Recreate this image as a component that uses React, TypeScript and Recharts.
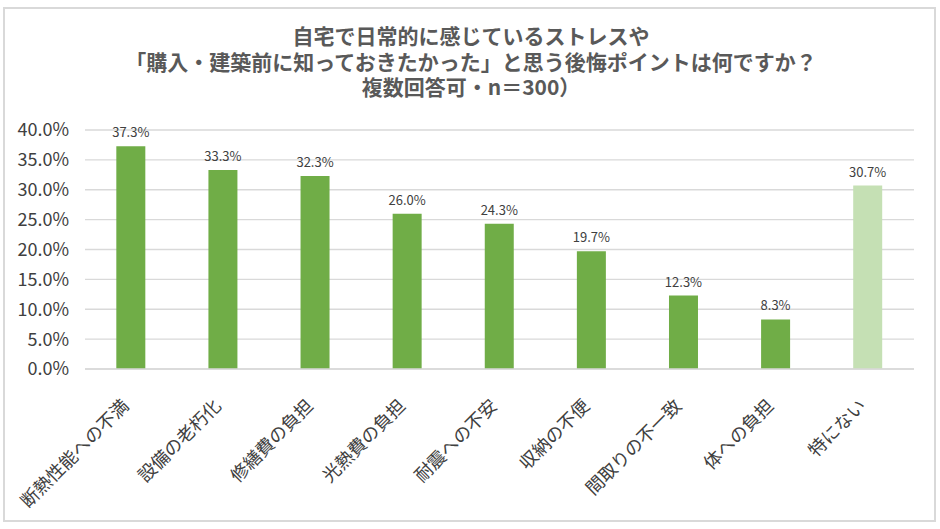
import React from "react";
import { BarChart, Bar, XAxis, YAxis, CartesianGrid, Cell, LabelList } from "recharts";

const categories = [
  "断熱性能への不満",
  "設備の老朽化",
  "修繕費の負担",
  "光熱費の負担",
  "耐震への不安",
  "収納の不便",
  "間取りの不一致",
  "体への負担",
  "特にない",
];
const values = [37.3, 33.3, 32.3, 26.0, 24.3, 19.7, 12.3, 8.3, 30.7];
const yTicks = [0, 5, 10, 15, 20, 25, 30, 35, 40];
const titleLines = [
  "自宅で日常的に感じているストレスや",
  "「購入・建築前に知っておきたかった」と思う後悔ポイントは何ですか？",
  "複数回答可・n＝300）",
];

const data = categories.map((name, i) => ({ name, value: values[i] }));

const FONT = "'Noto Sans CJK JP', 'Noto Sans', sans-serif";

const XTick = (props: any) => {
  const { x, y, payload } = props;
  const ax = x - 1;
  const ay = y + 30;
  return (
    <text
      x={ax}
      y={ay}
      transform={`rotate(-45, ${ax}, ${ay})`}
      textAnchor="end"
      fontSize={18}
      fill="#404040"
      fontFamily={FONT}
    >
      {payload.value}
    </text>
  );
};

export default function App() {
  return (
    <div style={{ position: "absolute", left: 0, top: 0, width: 940, height: 529, background: "#fff", fontFamily: FONT }}>
      <div
        style={{
          position: "absolute",
          left: 3,
          top: 7,
          width: 929,
          height: 511,
          border: "2px solid #d9d9d9",
        }}
      />
      {titleLines.map((l, i) => (
        <div
          key={i}
          style={{
            position: "absolute",
            left: 4,
            top: 25 + i * 25.5,
            width: 934,
            textAlign: "center",
            color: "#595959",
            fontSize: 21,
            fontWeight: 700,
            lineHeight: "21px",
            height: 21,
            whiteSpace: "nowrap",
          }}
        >
          {l}
        </div>
      ))}
      <div style={{ position: "absolute", left: 0, top: 0 }}>
        <BarChart
          width={940}
          height={529}
          data={data}
          margin={{ top: 130, right: 26, bottom: 0, left: 0 }}
          barCategoryGap="34%"
        >
          <CartesianGrid vertical={false} stroke="#d9d9d9" strokeWidth={1.3} />
          <XAxis
            dataKey="name"
            interval={0}
            height={160}
            tickLine={false}
            axisLine={{ stroke: "#d9d9d9", strokeWidth: 1.3 }}
            tick={<XTick />}
          />
          <YAxis
            width={85}
            domain={[0, 40]}
            ticks={yTicks}
            interval={0}
            tickLine={false}
            axisLine={false}
            tickFormatter={(v: number) => v.toFixed(1) + "%"}
            tick={{ fontSize: 18, fill: "#404040", fontFamily: FONT }}
            tickMargin={10}
          />
          <Bar dataKey="value" isAnimationActive={false}>
            {data.map((d, i) => (
              <Cell key={i} fill={i === data.length - 1 ? "#c5e0b4" : "#70ad47"} />
            ))}
            <LabelList
              dataKey="value"
              position="top"
              offset={9}
              formatter={(v: any) => Number(v).toFixed(1) + "%"}
              style={{ fontSize: 13, fill: "#404040", fontFamily: FONT }}
            />
          </Bar>
        </BarChart>
      </div>
    </div>
  );
}
